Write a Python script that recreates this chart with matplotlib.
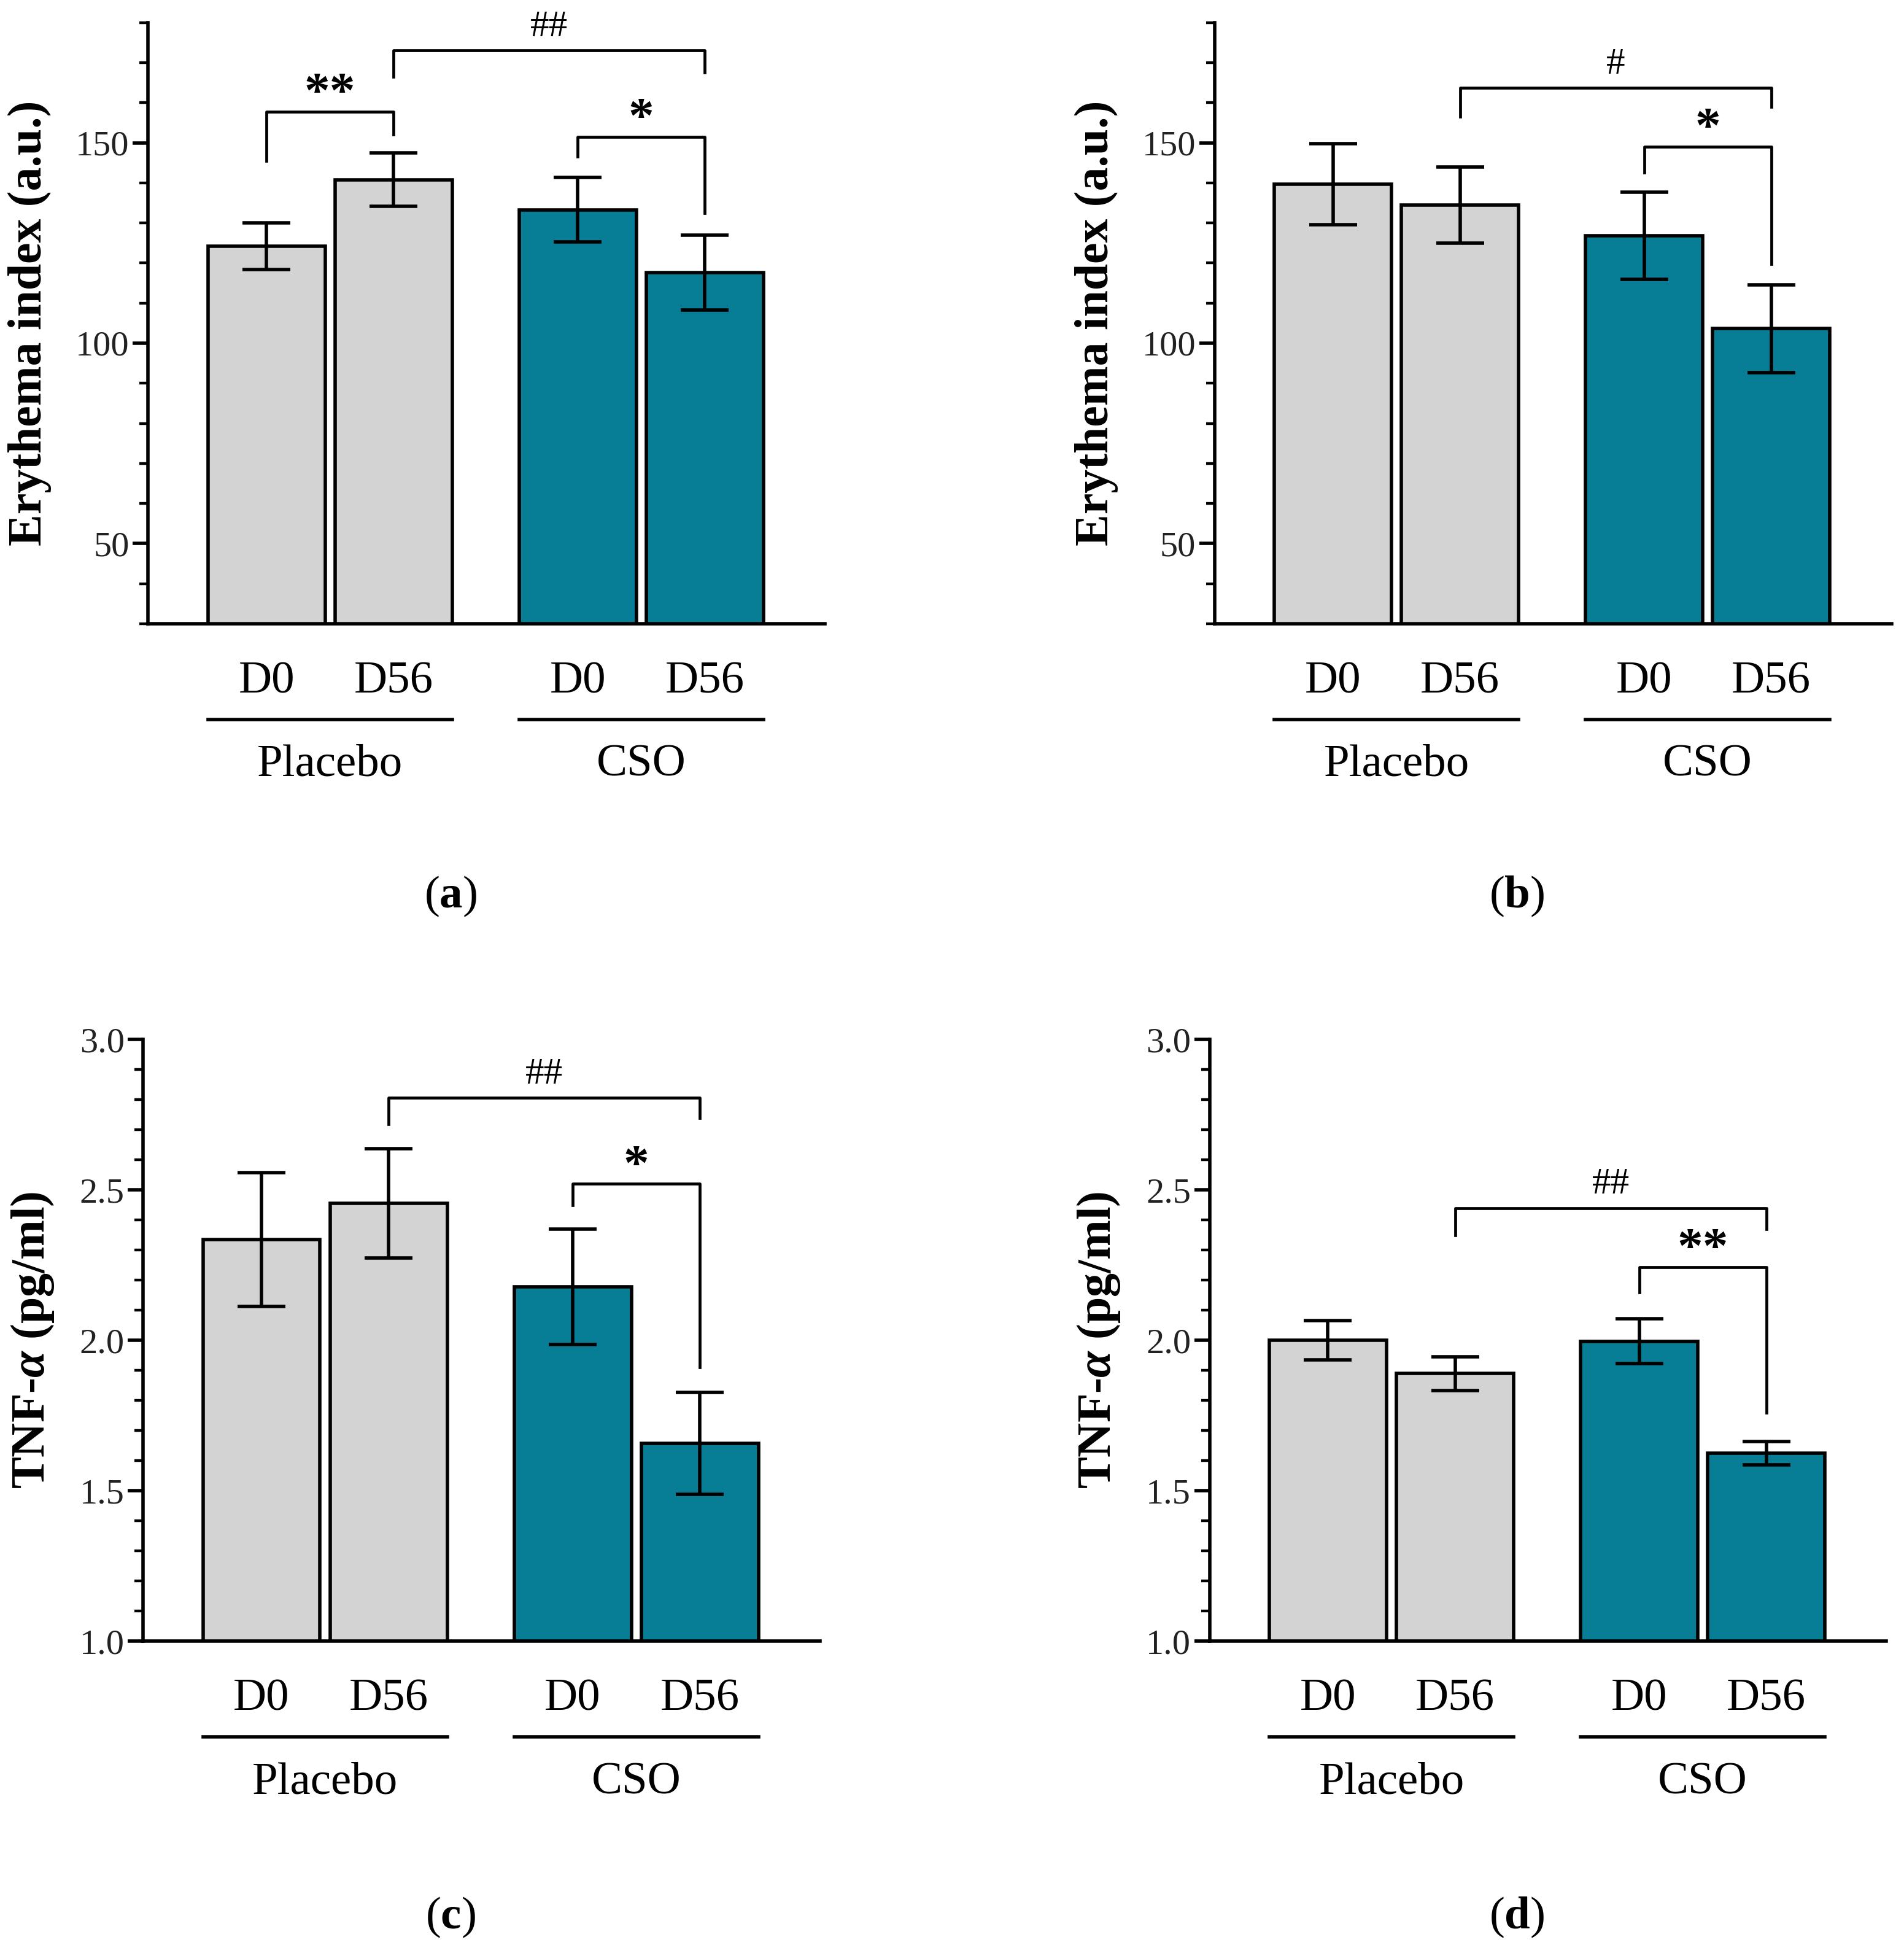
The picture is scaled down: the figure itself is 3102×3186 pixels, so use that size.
import matplotlib.pyplot as plt
import numpy as np
from matplotlib.ticker import MultipleLocator

plt.rcParams['font.family'] = ['Liberation Serif', 'DejaVu Serif']
plt.rcParams['mathtext.fontset'] = 'custom'
plt.rcParams['mathtext.rm'] = 'Liberation Serif'
plt.rcParams['mathtext.it'] = 'Liberation Serif:italic:bold'
plt.rcParams['mathtext.bf'] = 'Liberation Serif:bold'

# data
days = ['D0', 'D56', 'D0', 'D56']
groups = ['Placebo', 'CSO']

ery_a = [124.2, 140.8, 133.3, 117.6]
ery_a_err = [5.8, 6.6, 8.1, 9.4]
ery_b = [139.6, 134.5, 126.8, 103.6]
ery_b_err = [10.1, 9.5, 10.8, 11.0]
tnf_c = [2.335, 2.455, 2.178, 1.657]
tnf_c_err = [0.222, 0.182, 0.192, 0.17]
tnf_d = [2.0, 1.89, 1.997, 1.625]
tnf_d_err = [0.065, 0.056, 0.074, 0.039]

# brackets: (bar i, bar j, height, left leg end, right leg end, label)
br_a = [(0, 1, 157.8, 145.5, 152.0, '**'), (1, 3, 173.0, 166.5, 167.5, '##'),
        (2, 3, 151.5, 146.5, 132.5, '*')]
br_b = [(1, 3, 163.7, 156.5, 159.0, '#'), (2, 3, 149.0, 142.5, 119.8, '*')]
br_c = [(1, 3, 2.806, 2.72, 2.74, '##'), (2, 3, 2.52, 2.45, 1.91, '*')]
br_d = [(1, 3, 2.44, 2.35, 2.37, '##'), (2, 3, 2.244, 2.16, 1.76, '**')]

gray = '#d3d3d3'
teal = '#087d96'
colors = [gray, gray, teal, teal]
pos = np.array([0.0, 1.075, 2.63, 3.705])
width = 0.99


def draw_panel(ax, vals, errs, brackets, ylim, major, minor, ylabel, fmt, unit):
    ax.bar(pos, vals, width, color=colors, edgecolor='black', linewidth=2.0, zorder=2)
    ax.errorbar(pos, vals, yerr=errs, fmt='none', ecolor='black', elinewidth=2.0,
                capsize=14, capthick=2.0, zorder=3)
    ax.set_xlim(-1.0, 4.72)
    ax.set_ylim(*ylim)
    ax.yaxis.set_major_locator(MultipleLocator(major))
    ax.yaxis.set_minor_locator(MultipleLocator(minor))
    ax.yaxis.set_major_formatter(plt.FormatStrFormatter(fmt))
    for s in ['top', 'right']:
        ax.spines[s].set_visible(False)
    for s in ['left', 'bottom']:
        ax.spines[s].set_linewidth(2.0)
    ax.tick_params(axis='y', which='major', length=9, width=2.0, labelsize=21,
                   labelcolor='#222222', pad=2)
    ax.tick_params(axis='y', which='minor', length=5, width=1.6)
    ax.set_xticks(pos)
    ax.set_xticklabels(days, fontsize=27)
    ax.tick_params(axis='x', length=0, pad=22)
    ax.set_ylabel(ylabel, fontsize=28, fontweight='bold', labelpad=14)

    # group lines and labels below the axis
    trans = ax.get_xaxis_transform()
    for k, g in enumerate(groups):
        x0 = pos[2 * k] - width / 2
        x1 = pos[2 * k + 1] + width / 2
        ax.plot([x0, x1], [-0.159, -0.159], color='black', lw=2.0,
                transform=trans, clip_on=False)
        ax.text((x0 + x1) / 2, -0.235, g, fontsize=27, ha='center', va='center',
                transform=trans)

    for i, j, h, yl, yr, lab in brackets:
        ax.plot([pos[i], pos[i], pos[j], pos[j]], [yl, h, h, yr], color='black',
                lw=1.7, zorder=4, clip_on=False)
        if '*' in lab:
            ax.text((pos[i] + pos[j]) / 2, h - 1.6 * unit, lab, fontsize=30,
                    fontweight='bold', ha='center', va='bottom')
        else:
            ax.text((pos[i] + pos[j]) / 2, h + 1.6 * unit, lab, fontsize=22,
                    ha='center', va='bottom')


fig = plt.figure(figsize=(15.51, 15.93), dpi=200)
ax_a = fig.add_axes([0.0778, 0.6811, 0.3555, 0.3074])
ax_b = fig.add_axes([0.6379, 0.6811, 0.3555, 0.3074])
ax_c = fig.add_axes([0.0752, 0.1610, 0.3555, 0.3075])
ax_d = fig.add_axes([0.6353, 0.1610, 0.3555, 0.3075])

draw_panel(ax_a, ery_a, ery_a_err, br_a, (30, 180), 50, 10,
           'Erythema index (a.u.)', '%d', 1.0)
draw_panel(ax_b, ery_b, ery_b_err, br_b, (30, 180), 50, 10,
           'Erythema index (a.u.)', '%d', 1.0)
draw_panel(ax_c, tnf_c, tnf_c_err, br_c, (1.0, 3.0), 0.5, 0.1,
           r'TNF-$\alpha$ (pg/ml)', '%.1f', 0.0133)
draw_panel(ax_d, tnf_d, tnf_d_err, br_d, (1.0, 3.0), 0.5, 0.1,
           r'TNF-$\alpha$ (pg/ml)', '%.1f', 0.0133)

fig.text(362 / 1530, 1 - 720 / 1571, r'($\mathbf{a}$)', fontsize=27, ha='center', va='center')
fig.text(1219 / 1530, 1 - 720 / 1571, r'($\mathbf{b}$)', fontsize=27, ha='center', va='center')
fig.text(362 / 1530, 1 - 1540 / 1571, r'($\mathbf{c}$)', fontsize=27, ha='center', va='center')
fig.text(1219 / 1530, 1 - 1540 / 1571, r'($\mathbf{d}$)', fontsize=27, ha='center', va='center')

fig.savefig('out.png', dpi=200)
